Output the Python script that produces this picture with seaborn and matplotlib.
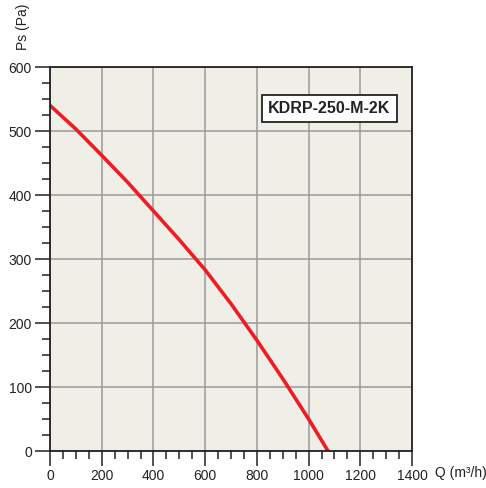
import matplotlib
matplotlib.use("Agg")
import matplotlib.pyplot as plt
import seaborn as sns
import pandas as pd
from matplotlib.ticker import MultipleLocator

# curve
flow = [0, 100, 200, 300, 400, 500, 600, 700, 800, 900, 1000, 1075]
pressure = [540, 503, 462, 420, 375, 330, 283, 230, 173, 113, 50, 0]
model = "KDRP-250-M-2K"

df = pd.DataFrame({"Q": flow, "Ps": pressure})

sns.set_style("white")
plt.rcParams["font.family"] = ["Liberation Sans", "DejaVu Sans"]

fig = plt.figure(figsize=(4.86, 4.88), dpi=100)
ax = fig.add_axes([0.1029, 0.0758, 0.7449, 0.7869])
ax.set_facecolor("#f0efe7")

sns.lineplot(data=df, x="Q", y="Ps", color="#ee1c25", linewidth=2.6, ax=ax)

ax.set_xlim(0, 1400)
ax.set_ylim(0, 600)
ax.xaxis.set_major_locator(MultipleLocator(200))
ax.xaxis.set_minor_locator(MultipleLocator(50))
ax.yaxis.set_major_locator(MultipleLocator(100))
ax.yaxis.set_minor_locator(MultipleLocator(25))
ax.grid(True, which="major", color="#9a9a9a", linewidth=1.1)
ax.set_axisbelow(True)
ax.tick_params(axis="both", which="major", direction="out", length=11, width=1.1,
               color="#222222", labelsize=10, labelcolor="#222222", pad=2, bottom=True, left=True)
ax.tick_params(axis="both", which="minor", direction="out", length=6, width=1.1,
               color="#222222", bottom=True, left=True)
for s in ax.spines.values():
    s.set_color("#222222")
    s.set_linewidth(1.3)

ax.set_xlabel("")
ax.set_ylabel("")
fig.text(0.895, 0.031, "Q (m³/h)", fontsize=10, color="#222222", va="center", ha="left")
fig.text(0.047, 0.945, "Ps (Pa)", fontsize=10, color="#222222", rotation=90, va="center", ha="center")

ax.text(0.771, 0.892, model, transform=ax.transAxes, ha="center", va="center",
        fontsize=11.5, fontweight="bold", color="#222222",
        bbox=dict(boxstyle="square,pad=0.4", facecolor="white", edgecolor="#222222", linewidth=1.3))

fig.savefig("out.png", dpi=100)
